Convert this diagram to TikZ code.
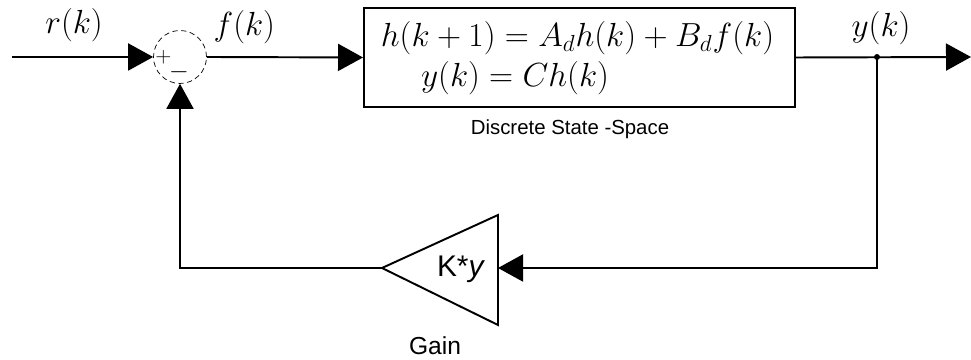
\documentclass[tikz,border=0pt]{standalone}
\usepackage{fontspec}
\setsansfont{Liberation Sans}
\usetikzlibrary{arrows.meta}
\tikzset{
  sig/.style={-{Triangle[length=0.5cm,width=0.54cm]}, line width=1.1pt},
  wire/.style={line width=1.1pt},
  eq/.style={font=\fontsize{17.28}{21}\selectfont, scale=1.1, transform shape},
  blocklabel/.style={font=\sffamily\fontsize{11.6}{14}\selectfont},
}
\begin{document}
\begin{tikzpicture}
    \useasboundingbox (0,0) rectangle (19.42,7.2);
    % Define node positions
    \coordinate (in) at (0.24,6.06);
    \node[draw, densely dashed, circle, minimum size=1.06cm, inner sep=0pt] (S) at (3.6,6.06) {};
    \node[font=\fontsize{13}{14}\selectfont] at (3.27,6.06) {$+$};
    \node[font=\fontsize{14}{15}\selectfont] at (3.58,5.76) {$-$};
    \node[draw, wire, minimum width=8.62cm, minimum height=1.98cm] (P) at (11.59,6.05) {};
    \node[eq] (eqA) at (11.55,6.44) {$h(k+1) = A_d h(k) + B_d f(k)$};
    \node[eq] (eqB) at (10.3,5.64) {$y(k) = Ch(k)$};
    \node[blocklabel] (Pname) at (11.4,4.62) {Discrete State -Space};
    \coordinate (br) at (17.54,6.06); \coordinate (out) at (19.42,6.06);
    \coordinate (down) at (17.54,1.84); \coordinate (up) at (3.6,1.84);
    % Gain triangle
    \coordinate (Gin) at (9.96,1.84); \coordinate (Gout) at (7.64,1.84);
    \draw[wire] (Gout) -- (9.96,2.9) -- (9.96,0.7) -- cycle;
    \node[font=\sffamily\fontsize{17}{20}\selectfont] (Gtxt) at (9.22,1.82) {K*\textit{y}};
    \node[font=\sffamily\fontsize{14}{16}\selectfont] (Gname) at (8.7,0.28) {Gain};

    % Draw arrows
    \draw[sig] (in) -- (S.west) node[pos=0.44, above=0.16cm, eq] {$r(k)$};
    \draw[sig] (S.east) -- (P.west) node[pos=0.24, above=0.12cm, eq] {$f(k)$};
    \draw[sig] (P.east) -- (out);
    \node[eq] at (17.62,6.64) {$y(k)$};
    \fill (br) circle (0.06);
    \draw[sig] (br) -- (down) -- (Gin);
    \draw[sig] (Gout) -- (up) -- (S.south);
\end{tikzpicture}
\end{document}
